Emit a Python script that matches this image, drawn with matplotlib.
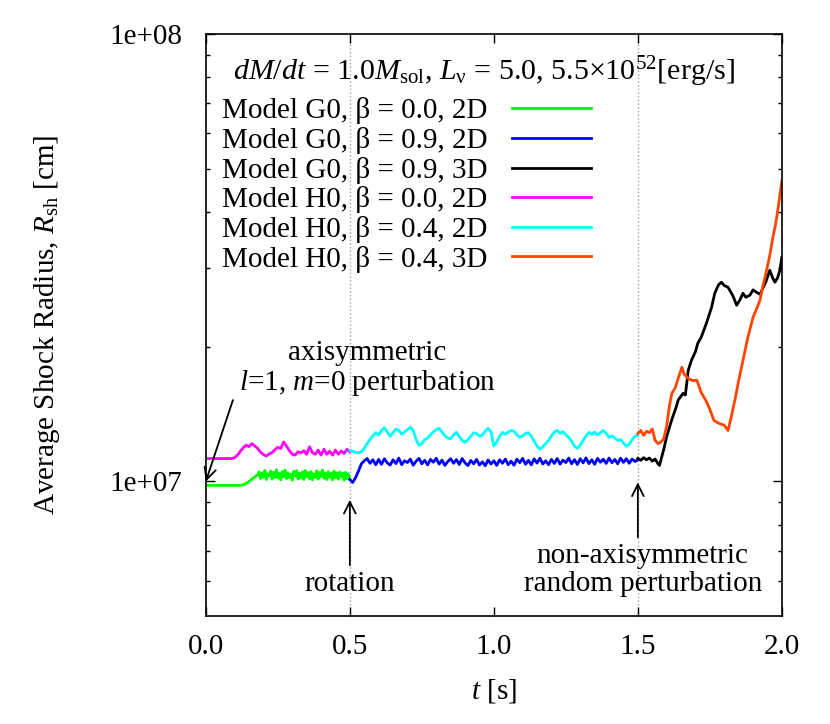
import numpy as np
import matplotlib
matplotlib.use("Agg")
import matplotlib.pyplot as plt
from matplotlib.ticker import FixedLocator, FuncFormatter, NullFormatter

plt.rcParams['font.family'] = ['Liberation Serif', 'DejaVu Serif']
plt.rcParams['mathtext.fontset'] = 'custom'
plt.rcParams['mathtext.rm'] = 'Liberation Serif'
plt.rcParams['mathtext.it'] = 'Liberation Serif:italic'
plt.rcParams['font.size'] = 21

# shock radius in units of 1e7 cm
# G0 2D before rotation (t = 0 .. 0.5 s, dt = 0.005)
g0_b00_2d = [0.980] * 25 + [0.981, 0.983, 0.986, 0.990, 0.995, 1.000,
    1.006, 1.012, 1.018, 1.024, 1.030, 1.034,
    1.050, 1.015, 1.045, 1.022, 1.058, 1.010, 1.040, 1.030, 1.055, 1.012,
    1.048, 1.020, 1.062, 1.018, 1.042, 1.008, 1.052, 1.025, 1.060, 1.015,
    1.046, 1.020, 1.038, 1.006, 1.054, 1.028, 1.057, 1.012, 1.044, 1.018,
    1.050, 1.010, 1.058, 1.024, 1.047, 1.014, 1.052, 1.008, 1.040, 1.020,
    1.056, 1.012, 1.048, 1.026, 1.060, 1.016, 1.044, 1.010, 1.052, 1.022,
    1.042, 1.008, 1.055, 1.018, 1.046, 1.012, 1.050, 1.024, 1.044, 1.006,
    1.048, 1.014, 1.040, 1.010]
# H0 2D before rotation (t = 0 .. 0.5 s, dt = 0.01)
h0_b00_2d = [1.125] * 10 + [1.130, 1.145, 1.168, 1.190, 1.205, 1.196,
    1.215, 1.200, 1.185, 1.162, 1.148, 1.140, 1.152, 1.160, 1.178, 1.192,
    1.185, 1.225, 1.200, 1.172, 1.150, 1.145, 1.165, 1.158, 1.172, 1.150,
    1.195, 1.160, 1.150, 1.175, 1.145, 1.180, 1.150, 1.168, 1.145, 1.175,
    1.150, 1.170, 1.155, 1.180, 1.165]

# 2D runs with rotation (t = 0.5 .. 1.5 s, dt = 0.01)
g0_b09_2d = [1.010, 0.995, 1.020, 1.055, 1.095, 1.112, 1.125, 1.098, 1.118,
    1.090, 1.120,
    1.092, 1.124, 1.100, 1.088, 1.118, 1.096, 1.128, 1.090, 1.112, 1.102,
    1.122, 1.087, 1.110, 1.126, 1.095, 1.115, 1.089, 1.120, 1.104, 1.127,
    1.093, 1.116, 1.086, 1.108, 1.124, 1.098, 1.119, 1.091, 1.125, 1.100,
    1.085, 1.114, 1.095, 1.120, 1.088, 1.106, 1.084, 1.117, 1.094, 1.112,
    1.086, 1.118, 1.098, 1.122, 1.090, 1.110, 1.087, 1.121, 1.101, 1.126,
    1.092, 1.115, 1.089, 1.123, 1.099, 1.127, 1.094, 1.112, 1.090, 1.120,
    1.097, 1.125, 1.093, 1.116, 1.102, 1.128, 1.095, 1.119, 1.091, 1.124,
    1.100, 1.129, 1.096, 1.118, 1.092, 1.126, 1.104, 1.121, 1.097, 1.128,
    1.101, 1.120, 1.095, 1.127, 1.103, 1.124, 1.098, 1.122, 1.108, 1.118]
h0_b04_2d = [1.173, 1.168, 1.162, 1.158, 1.165, 1.185, 1.215, 1.240, 1.265,
    1.285, 1.270, 1.300, 1.318, 1.290, 1.262, 1.285, 1.310, 1.300, 1.275,
    1.290, 1.305, 1.322, 1.300, 1.240, 1.205, 1.215, 1.240, 1.250, 1.272,
    1.290, 1.305, 1.315, 1.290, 1.265, 1.250, 1.245, 1.270, 1.288, 1.260,
    1.235, 1.222, 1.240, 1.262, 1.285, 1.280, 1.262, 1.270, 1.295, 1.315,
    1.290, 1.200, 1.225, 1.262, 1.287, 1.275, 1.290, 1.300, 1.295, 1.270,
    1.254, 1.265, 1.280, 1.285, 1.262, 1.230, 1.200, 1.180, 1.195, 1.215,
    1.235, 1.265, 1.290, 1.300, 1.280, 1.292, 1.270, 1.254, 1.230, 1.200,
    1.185, 1.205, 1.235, 1.262, 1.287, 1.275, 1.290, 1.270, 1.285, 1.300,
    1.280, 1.254, 1.265, 1.250, 1.235, 1.240, 1.220, 1.198, 1.210, 1.240,
    1.262, 1.268]

# 3D runs (t = 1.5 .. 2.0 s)
t_g0_3d = [1.50, 1.51, 1.52, 1.53, 1.54, 1.55, 1.56, 1.57, 1.575, 1.59,
    1.60, 1.617, 1.635, 1.64, 1.657, 1.665, 1.675, 1.686, 1.70, 1.708,
    1.72, 1.738, 1.756, 1.767, 1.78, 1.79, 1.80, 1.813, 1.83, 1.843,
    1.855, 1.865, 1.875, 1.889, 1.90, 1.912, 1.925, 1.934, 1.945, 1.958,
    1.968, 1.976, 1.985, 1.993, 2.00]
g0_b09_3d = [1.126, 1.115, 1.130, 1.118, 1.128, 1.110, 1.122, 1.095, 1.086,
    1.180, 1.260, 1.369, 1.479, 1.520, 1.574, 1.560, 1.772, 1.865, 1.950,
    2.036, 2.100, 2.257, 2.451, 2.634, 2.750, 2.788, 2.740, 2.717, 2.600,
    2.476, 2.550, 2.634, 2.580, 2.608, 2.680, 2.647, 2.620, 2.703, 2.800,
    2.965, 2.850, 2.788, 2.850, 2.965, 3.170]
t_h0_3d = [1.50, 1.51, 1.52, 1.53, 1.54, 1.55, 1.56, 1.57, 1.58, 1.59,
    1.60, 1.61, 1.618, 1.63, 1.64, 1.653, 1.66, 1.674, 1.69, 1.705,
    1.72, 1.736, 1.75, 1.764, 1.78, 1.80, 1.813, 1.825, 1.837, 1.85,
    1.865, 1.882, 1.90, 1.912, 1.924, 1.935, 1.947, 1.958, 1.969, 1.978,
    1.986, 1.993, 2.00]
h0_b04_3d = [1.280, 1.300, 1.268, 1.295, 1.285, 1.310, 1.235, 1.215, 1.225,
    1.245, 1.330, 1.480, 1.574, 1.620, 1.700, 1.800, 1.740, 1.700, 1.680,
    1.683, 1.580, 1.518, 1.450, 1.369, 1.350, 1.335, 1.300, 1.400, 1.520,
    1.680, 1.865, 2.100, 2.327, 2.430, 2.541, 2.750, 2.965, 3.200, 3.515,
    3.750, 4.040, 4.350, 4.700]

labels = ["Model G0, β = 0.0, 2D", "Model G0, β = 0.9, 2D",
          "Model G0, β = 0.9, 3D", "Model H0, β = 0.0, 2D",
          "Model H0, β = 0.4, 2D", "Model H0, β = 0.4, 3D"]
colors = ["#00ff00", "#0000ff", "#000000", "#ff00ff", "#00ffff", "#ff4500"]

t1 = np.linspace(0.0, 0.5, len(g0_b00_2d))
t1h = np.linspace(0.0, 0.5, len(h0_b00_2d))
t2 = np.linspace(0.5, 1.5, len(g0_b09_2d))
t2h = np.linspace(0.5, 1.5, len(h0_b04_2d))

fig = plt.figure(figsize=(8.3, 7.24), dpi=100)
ax = fig.add_axes([0.248, 0.149, 0.694, 0.804])

lw = 2.0
series = [(t1, g0_b00_2d), (t2, g0_b09_2d), (t_g0_3d, g0_b09_3d),
          (t1h, h0_b00_2d), (t2h, h0_b04_2d), (t_h0_3d, h0_b04_3d)]
handles = []
for (tt, rr), c, lab in zip(series, colors, labels):
    h, = ax.plot(tt, np.array(rr) * 1e7, color=c, lw=lw, label=lab)
    handles.append(h)

for tv in [0.5, 1.5]:
    ax.axvline(tv, color="#a0a0a0", ls=":", lw=1.0, zorder=0)

ax.set_yscale("log")
ax.set_xlim(0, 2.0)
ax.set_ylim(5e6, 1e8)
ax.xaxis.set_major_locator(FixedLocator([0, 0.5, 1.0, 1.5, 2.0]))
ax.xaxis.set_major_formatter(FuncFormatter(lambda v, _: f"{v:.1f}"))
ax.yaxis.set_major_locator(FixedLocator([1e7, 1e8]))
ax.yaxis.set_major_formatter(FuncFormatter(lambda v, _: f"{v:.0e}"))
ax.yaxis.set_minor_locator(FixedLocator([6e6, 7e6, 8e6, 9e6] +
                                        [k * 1e7 for k in range(2, 10)]))
ax.yaxis.set_minor_formatter(NullFormatter())
ax.tick_params(which="both", direction="in", top=True, right=True, width=1.0)
ax.tick_params(which="major", length=6.5)
ax.tick_params(which="minor", length=3.2)
ax.tick_params(axis="x", pad=13)
ax.tick_params(axis="y", pad=17)
for s in ax.spines.values():
    s.set_linewidth(1.2)

ax.set_xlabel("$t$ [s]", labelpad=12)
ax.set_ylabel(r"Average Shock Radius, $R_{\rm sh}$ [cm]", labelpad=34)

ax.text(0.047, 0.935,
        r"$dM/dt$ = 1.0$M_{\rm sol}$, $L_{\mathrm{\nu}}$ = 5.0, 5.5×10$^{52}$[erg/s]",
        transform=ax.transAxes, ha="left", va="center", fontsize=21.6)
ax.legend(handles=handles, loc="upper left", bbox_to_anchor=(0.028, 0.891),
          frameon=False, markerfirst=False, borderpad=0, borderaxespad=0,
          handlelength=2.7, handletextpad=0.85, labelspacing=0.09)

ax.annotate("", xy=(0.0, 1e7), xytext=(0.094, 1.52e7),
            arrowprops=dict(arrowstyle="->", lw=1.3, color="black",
                            shrinkA=0, shrinkB=0))
ax.text(0.56, 1.785e7, "axisymmetric\n$l$=1, $m$=0 perturbation",
        ha="center", va="center", linespacing=1.07)
ax.annotate("", xy=(0.5, 9.1e6), xytext=(0.5, 6.5e6),
            arrowprops=dict(arrowstyle="->", lw=1.3, color="black",
                            shrinkA=0, shrinkB=0))
ax.text(0.5, 5.7e6, "rotation", ha="center", va="baseline")
ax.annotate("", xy=(1.5, 9.95e6), xytext=(1.5, 7.5e6),
            arrowprops=dict(arrowstyle="->", lw=1.3, color="black",
                            shrinkA=0, shrinkB=0))
ax.text(1.517, 5.7e6, "non-axisymmetric\nrandom perturbation",
        ha="center", va="baseline", linespacing=1.1)

fig.savefig("out.png", dpi=100)
